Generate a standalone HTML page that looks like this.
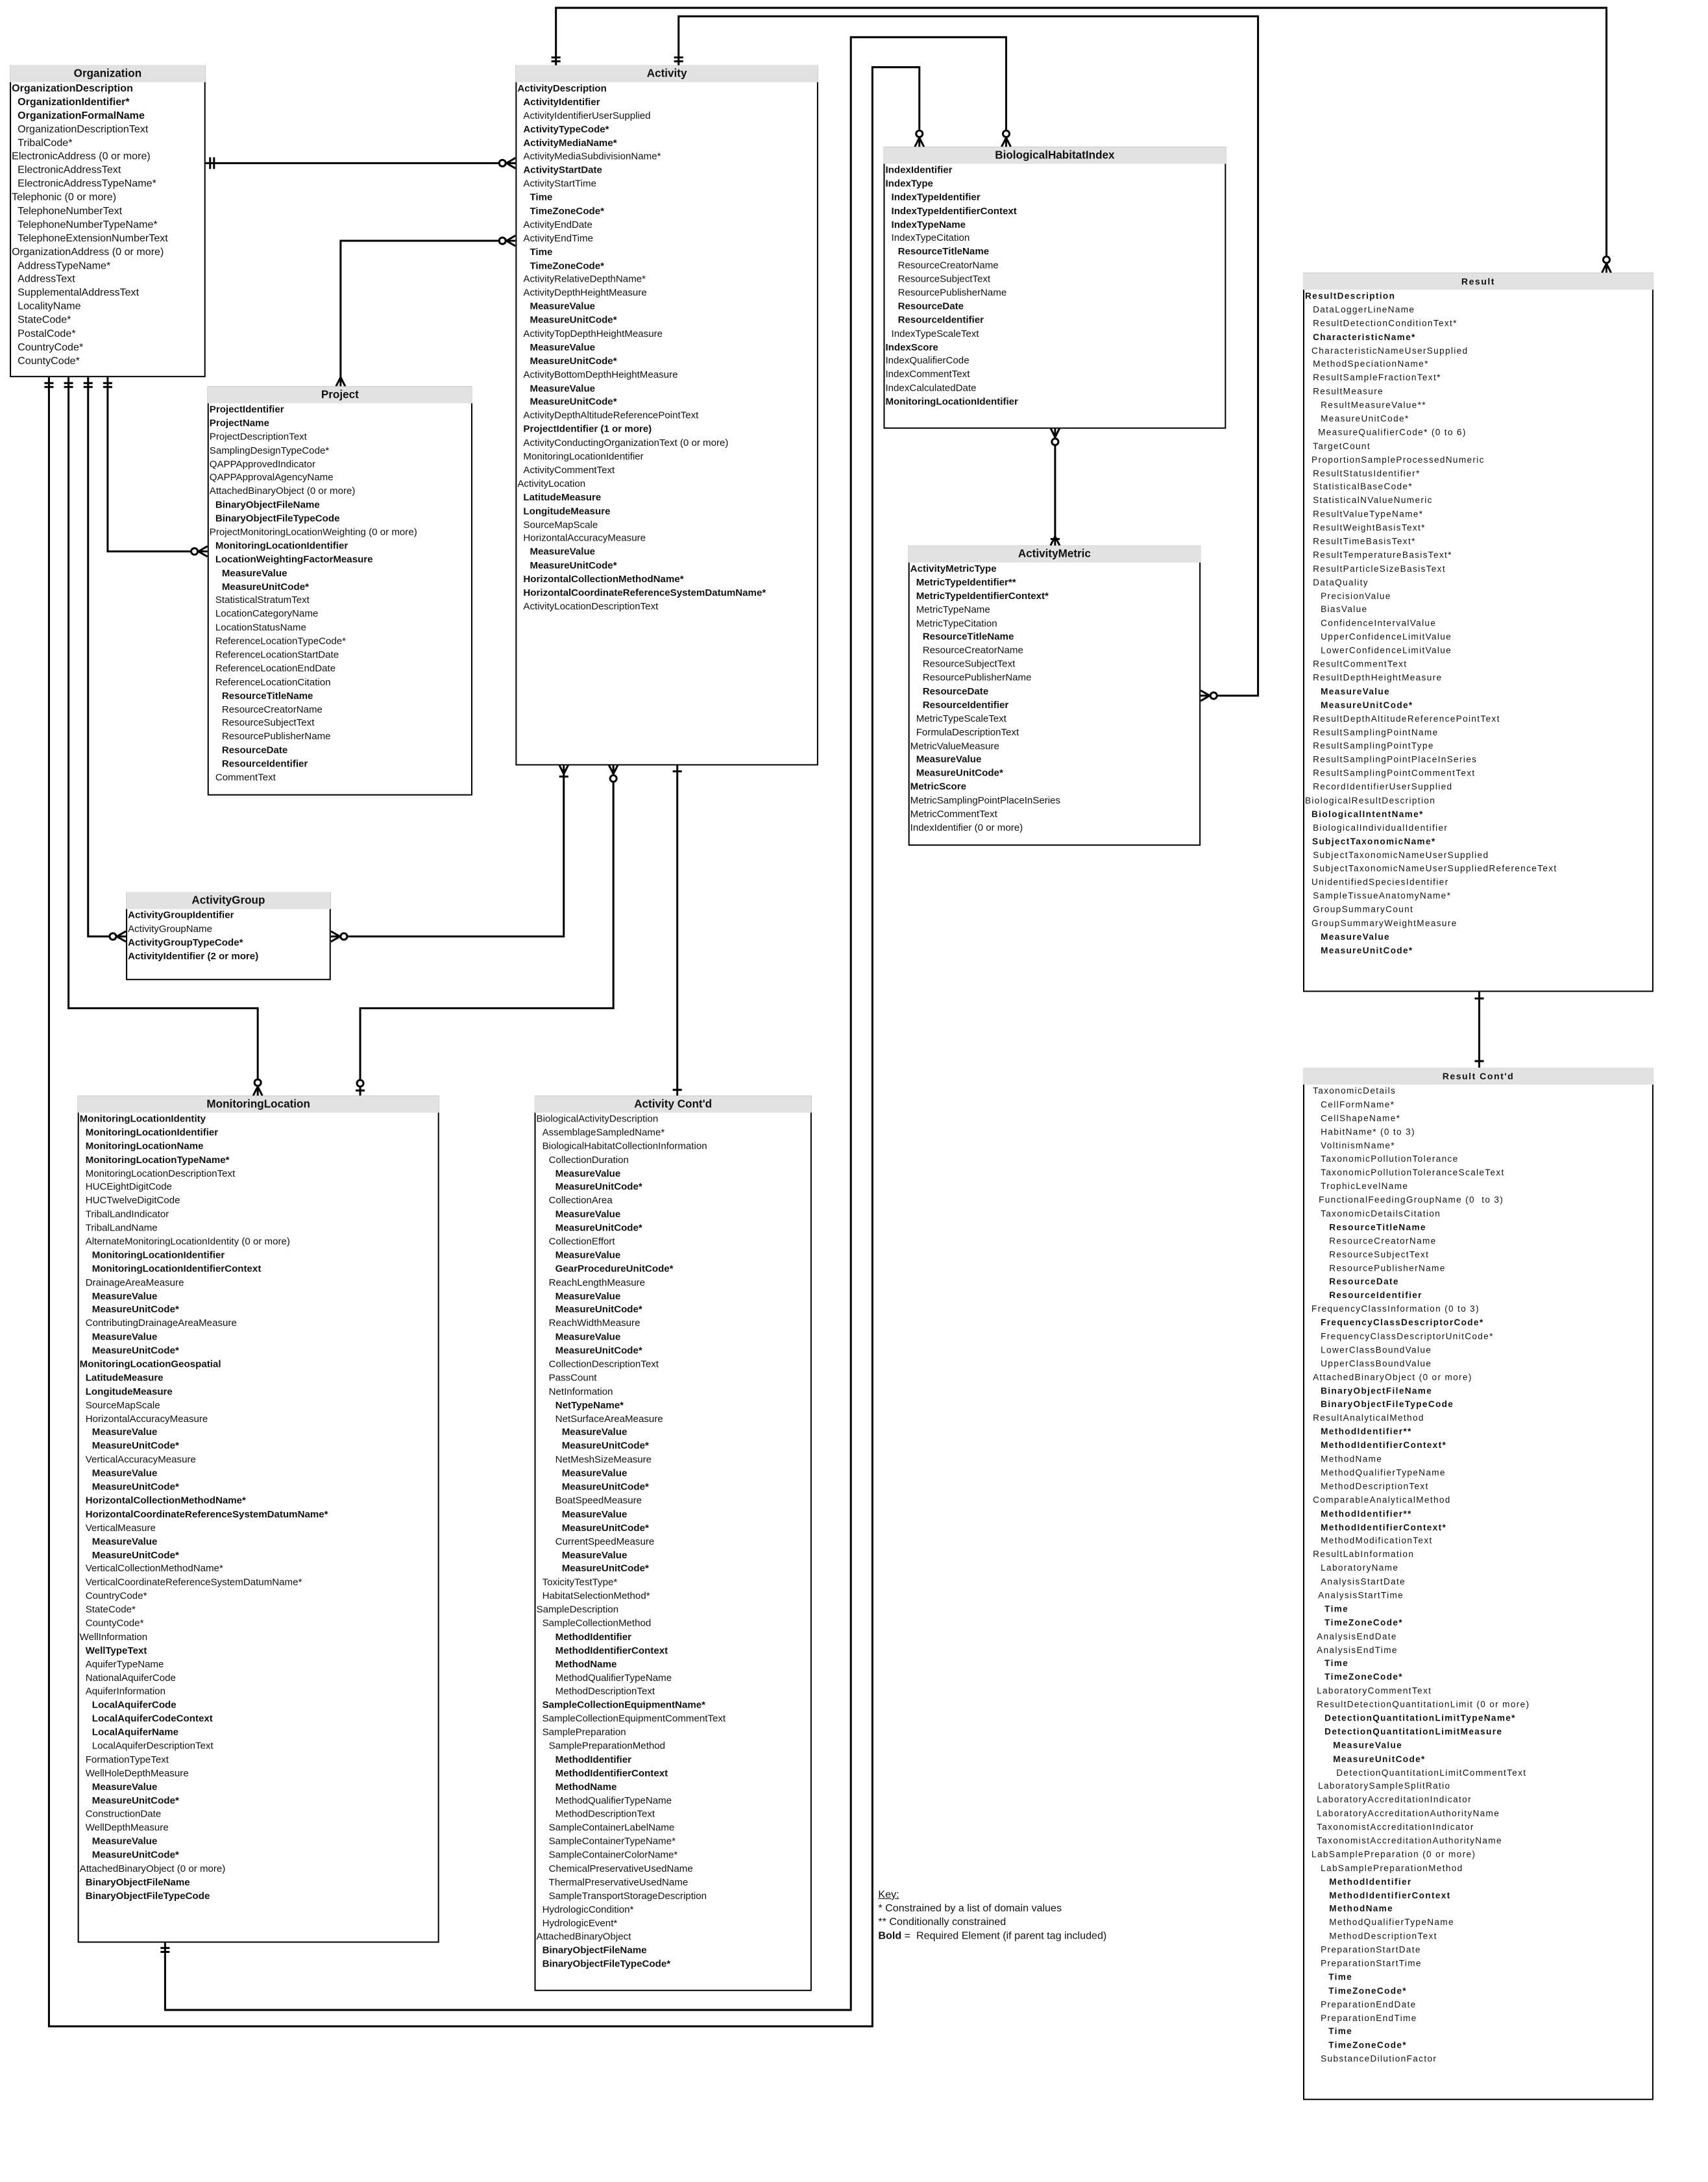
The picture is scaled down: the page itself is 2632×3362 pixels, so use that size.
<!DOCTYPE html>
<html><head><meta charset="utf-8">
<style>
html,body{margin:0;padding:0;background:#fff;}
body{width:2632px;height:3344px;position:relative;overflow:hidden;font-family:"Liberation Sans",sans-serif;color:#111;}
#wrap{position:absolute;left:0;top:0;width:2632px;height:3344px;transform:scale(1.0055);transform-origin:0 0;}
.box{position:absolute;box-sizing:border-box;border:2px solid #000;background:#fff;}
.hd{height:26px;background:#e2e2e2;text-align:center;font-weight:bold;font-size:17px;line-height:26px;margin:-2px -2px 0 -2px;}
.r{height:20.9px;line-height:20.9px;font-size:15px;white-space:nowrap;}
.b{font-weight:bold;}
.l0{padding-left:1px}.l1{padding-left:10px}.l2{padding-left:20px}.l3{padding-left:30px}.l4{padding-left:40px}
.org .r{font-size:16px}
.res .r{font-size:13.5px;letter-spacing:1.35px;}
.res .hd{font-size:14px;letter-spacing:1.5px;}
svg{position:absolute;left:0;top:0;}
.key{position:absolute;left:1346px;top:2893px;font-size:16px;line-height:21px;}
</style></head><body><div id="wrap">
<svg width="2632" height="3344" viewBox="0 0 2632 3344" fill="none" stroke="#000" stroke-width="3">
<path d="M314 250 H790"/>
<path d="M322 241 v18 M328 241 v18"/>
<path d="M776 250 L790 242 M776 250 L790 250 M776 250 L790 258"/><circle cx="770" cy="250" r="5" fill="#fff"/>
<path d="M522 592 V369 H790"/>
<path d="M776 369 L790 361 M776 369 L790 377"/><circle cx="770" cy="369" r="5" fill="#fff"/>
<path d="M522 578 L515 592 M522 578 L529 592"/>
<path d="M165 577 V845 H318"/>
<path d="M135 577 V1435 H193"/>
<path d="M105 577 V1545 H395 V1679"/>
<path d="M75 577 V3105 H1337 V103 H1409 V225"/>
<path d="M68 587 h14 M68 593 h14 M98 587 h14 M98 593 h14 M128 587 h14 M128 593 h14 M158 587 h14 M158 593 h14"/>
<path d="M304 845 L318 837 M304 845 L318 853"/><circle cx="298" cy="845" r="5" fill="#fff"/>
<path d="M179 1435 L193 1427 M179 1435 L193 1443"/><circle cx="173" cy="1435" r="5" fill="#fff"/>
<path d="M395 1665 L388 1679 M395 1665 L402 1679"/><circle cx="395" cy="1659" r="5" fill="#fff"/>
<path d="M1409 211 L1402 225 M1409 211 L1416 225"/><circle cx="1409" cy="205" r="5" fill="#fff"/>
<path d="M253 2976 V3080 H1304 V57 H1542 V225"/>
<path d="M246 2985 h14 M246 2991 h14"/>
<path d="M1542 211 L1535 225 M1542 211 L1549 225"/><circle cx="1542" cy="205" r="5" fill="#fff"/>
<path d="M852 100 V12 H2462 V418"/>
<path d="M845 88 h14 M845 94 h14"/>
<path d="M2462 404 L2455 418 M2462 404 L2469 418"/><circle cx="2462" cy="398" r="5" fill="#fff"/>
<path d="M1040 100 V25 H1928 V1066 H1840"/>
<path d="M1033 88 h14 M1033 94 h14"/>
<path d="M1854 1066 L1840 1058 M1854 1066 L1840 1074"/><circle cx="1860" cy="1066" r="5" fill="#fff"/>
<path d="M864 1172 V1435 H507"/>
<path d="M864 1186 L857 1172 M864 1186 L871 1172 M857 1190 h14"/>
<path d="M521 1435 L507 1427 M521 1435 L507 1443"/><circle cx="527" cy="1435" r="5" fill="#fff"/>
<path d="M940 1172 V1545 H552 V1679"/>
<path d="M940 1186 L933 1172 M940 1186 L947 1172"/><circle cx="940" cy="1193" r="5" fill="#fff"/>
<path d="M545 1671 h14"/><circle cx="552" cy="1660" r="5" fill="#fff"/>
<path d="M1038 1172 V1679"/>
<path d="M1031 1182 h14 M1031 1670 h14"/>
<path d="M1617 656 V836"/>
<path d="M1617 670 L1610 656 M1617 670 L1624 656"/><circle cx="1617" cy="677" r="5" fill="#fff"/>
<path d="M1617 822 L1610 836 M1617 822 L1624 836 M1610 826 h14"/>
<path d="M2267 1520 V1636"/>
<path d="M2260 1530 h14 M2260 1626 h14"/>
</svg>

<div class="box org" style="left:15px;top:100px;width:300px;height:478px;">
<div class="hd">Organization</div>
<div class="r b l0">OrganizationDescription</div>
<div class="r b l1">OrganizationIdentifier*</div>
<div class="r b l1">OrganizationFormalName</div>
<div class="r l1">OrganizationDescriptionText</div>
<div class="r l1">TribalCode*</div>
<div class="r l0">ElectronicAddress (0 or more)</div>
<div class="r l1">ElectronicAddressText</div>
<div class="r l1">ElectronicAddressTypeName*</div>
<div class="r l0">Telephonic (0 or more)</div>
<div class="r l1">TelephoneNumberText</div>
<div class="r l1">TelephoneNumberTypeName*</div>
<div class="r l1">TelephoneExtensionNumberText</div>
<div class="r l0">OrganizationAddress (0 or more)</div>
<div class="r l1">AddressTypeName*</div>
<div class="r l1">AddressText</div>
<div class="r l1">SupplementalAddressText</div>
<div class="r l1">LocalityName</div>
<div class="r l1">StateCode*</div>
<div class="r l1">PostalCode*</div>
<div class="r l1">CountryCode*</div>
<div class="r l1">CountyCode*</div>
</div>

<div class="box" style="left:790px;top:100px;width:464px;height:1073px;">
<div class="hd">Activity</div>
<div class="r b l0">ActivityDescription</div>
<div class="r b l1">ActivityIdentifier</div>
<div class="r l1">ActivityIdentifierUserSupplied</div>
<div class="r b l1">ActivityTypeCode*</div>
<div class="r b l1">ActivityMediaName*</div>
<div class="r l1">ActivityMediaSubdivisionName*</div>
<div class="r b l1">ActivityStartDate</div>
<div class="r l1">ActivityStartTime</div>
<div class="r b l2">Time</div>
<div class="r b l2">TimeZoneCode*</div>
<div class="r l1">ActivityEndDate</div>
<div class="r l1">ActivityEndTime</div>
<div class="r b l2">Time</div>
<div class="r b l2">TimeZoneCode*</div>
<div class="r l1">ActivityRelativeDepthName*</div>
<div class="r l1">ActivityDepthHeightMeasure</div>
<div class="r b l2">MeasureValue</div>
<div class="r b l2">MeasureUnitCode*</div>
<div class="r l1">ActivityTopDepthHeightMeasure</div>
<div class="r b l2">MeasureValue</div>
<div class="r b l2">MeasureUnitCode*</div>
<div class="r l1">ActivityBottomDepthHeightMeasure</div>
<div class="r b l2">MeasureValue</div>
<div class="r b l2">MeasureUnitCode*</div>
<div class="r l1">ActivityDepthAltitudeReferencePointText</div>
<div class="r b l1">ProjectIdentifier (1 or more)</div>
<div class="r l1">ActivityConductingOrganizationText (0 or more)</div>
<div class="r l1">MonitoringLocationIdentifier</div>
<div class="r l1">ActivityCommentText</div>
<div class="r l0">ActivityLocation</div>
<div class="r b l1">LatitudeMeasure</div>
<div class="r b l1">LongitudeMeasure</div>
<div class="r l1">SourceMapScale</div>
<div class="r l1">HorizontalAccuracyMeasure</div>
<div class="r b l2">MeasureValue</div>
<div class="r b l2">MeasureUnitCode*</div>
<div class="r b l1">HorizontalCollectionMethodName*</div>
<div class="r b l1">HorizontalCoordinateReferenceSystemDatumName*</div>
<div class="r l1">ActivityLocationDescriptionText</div>
</div>

<div class="box" style="left:318px;top:592px;width:406px;height:627px;">
<div class="hd">Project</div>
<div class="r b l0">ProjectIdentifier</div>
<div class="r b l0">ProjectName</div>
<div class="r l0">ProjectDescriptionText</div>
<div class="r l0">SamplingDesignTypeCode*</div>
<div class="r l0">QAPPApprovedIndicator</div>
<div class="r l0">QAPPApprovalAgencyName</div>
<div class="r l0">AttachedBinaryObject (0 or more)</div>
<div class="r b l1">BinaryObjectFileName</div>
<div class="r b l1">BinaryObjectFileTypeCode</div>
<div class="r l0">ProjectMonitoringLocationWeighting (0 or more)</div>
<div class="r b l1">MonitoringLocationIdentifier</div>
<div class="r b l1">LocationWeightingFactorMeasure</div>
<div class="r b l2">MeasureValue</div>
<div class="r b l2">MeasureUnitCode*</div>
<div class="r l1">StatisticalStratumText</div>
<div class="r l1">LocationCategoryName</div>
<div class="r l1">LocationStatusName</div>
<div class="r l1">ReferenceLocationTypeCode*</div>
<div class="r l1">ReferenceLocationStartDate</div>
<div class="r l1">ReferenceLocationEndDate</div>
<div class="r l1">ReferenceLocationCitation</div>
<div class="r b l2">ResourceTitleName</div>
<div class="r l2">ResourceCreatorName</div>
<div class="r l2">ResourceSubjectText</div>
<div class="r l2">ResourcePublisherName</div>
<div class="r b l2">ResourceDate</div>
<div class="r b l2">ResourceIdentifier</div>
<div class="r l1">CommentText</div>
</div>

<div class="box" style="left:193px;top:1367px;width:314px;height:135px;">
<div class="hd">ActivityGroup</div>
<div class="r b l0">ActivityGroupIdentifier</div>
<div class="r l0">ActivityGroupName</div>
<div class="r b l0">ActivityGroupTypeCode*</div>
<div class="r b l0">ActivityIdentifier (2 or more)</div>
</div>

<div class="box" style="left:1354px;top:225px;width:525px;height:432px;">
<div class="hd">BiologicalHabitatIndex</div>
<div class="r b l0">IndexIdentifier</div>
<div class="r b l0">IndexType</div>
<div class="r b l1">IndexTypeIdentifier</div>
<div class="r b l1">IndexTypeIdentifierContext</div>
<div class="r b l1">IndexTypeName</div>
<div class="r l1">IndexTypeCitation</div>
<div class="r b l2">ResourceTitleName</div>
<div class="r l2">ResourceCreatorName</div>
<div class="r l2">ResourceSubjectText</div>
<div class="r l2">ResourcePublisherName</div>
<div class="r b l2">ResourceDate</div>
<div class="r b l2">ResourceIdentifier</div>
<div class="r l1">IndexTypeScaleText</div>
<div class="r b l0">IndexScore</div>
<div class="r l0">IndexQualifierCode</div>
<div class="r l0">IndexCommentText</div>
<div class="r l0">IndexCalculatedDate</div>
<div class="r b l0">MonitoringLocationIdentifier</div>
</div>

<div class="box" style="left:1392px;top:836px;width:448px;height:460px;">
<div class="hd">ActivityMetric</div>
<div class="r b l0">ActivityMetricType</div>
<div class="r b l1">MetricTypeIdentifier**</div>
<div class="r b l1">MetricTypeIdentifierContext*</div>
<div class="r l1">MetricTypeName</div>
<div class="r l1">MetricTypeCitation</div>
<div class="r b l2">ResourceTitleName</div>
<div class="r l2">ResourceCreatorName</div>
<div class="r l2">ResourceSubjectText</div>
<div class="r l2">ResourcePublisherName</div>
<div class="r b l2">ResourceDate</div>
<div class="r b l2">ResourceIdentifier</div>
<div class="r l1">MetricTypeScaleText</div>
<div class="r l1">FormulaDescriptionText</div>
<div class="r l0">MetricValueMeasure</div>
<div class="r b l1">MeasureValue</div>
<div class="r b l1">MeasureUnitCode*</div>
<div class="r b l0">MetricScore</div>
<div class="r l0">MetricSamplingPointPlaceInSeries</div>
<div class="r l0">MetricCommentText</div>
<div class="r l0">IndexIdentifier (0 or more)</div>
</div>

<div class="box res" style="left:1997px;top:418px;width:537px;height:1102px;">
<div class="hd">Result</div>
<div class="r b" style="padding-left:1px">ResultDescription</div>
<div class="r" style="padding-left:13px">DataLoggerLineName</div>
<div class="r" style="padding-left:13px">ResultDetectionConditionText*</div>
<div class="r b" style="padding-left:13px">CharacteristicName*</div>
<div class="r" style="padding-left:11px">CharacteristicNameUserSupplied</div>
<div class="r" style="padding-left:13px">MethodSpeciationName*</div>
<div class="r" style="padding-left:13px">ResultSampleFractionText*</div>
<div class="r" style="padding-left:13px">ResultMeasure</div>
<div class="r" style="padding-left:25px">ResultMeasureValue**</div>
<div class="r" style="padding-left:25px">MeasureUnitCode*</div>
<div class="r" style="padding-left:21px">MeasureQualifierCode* (0 to 6)</div>
<div class="r" style="padding-left:13px">TargetCount</div>
<div class="r" style="padding-left:11px">ProportionSampleProcessedNumeric</div>
<div class="r" style="padding-left:13px">ResultStatusIdentifier*</div>
<div class="r" style="padding-left:13px">StatisticalBaseCode*</div>
<div class="r" style="padding-left:13px">StatisticalNValueNumeric</div>
<div class="r" style="padding-left:13px">ResultValueTypeName*</div>
<div class="r" style="padding-left:13px">ResultWeightBasisText*</div>
<div class="r" style="padding-left:13px">ResultTimeBasisText*</div>
<div class="r" style="padding-left:13px">ResultTemperatureBasisText*</div>
<div class="r" style="padding-left:13px">ResultParticleSizeBasisText</div>
<div class="r" style="padding-left:13px">DataQuality</div>
<div class="r" style="padding-left:25px">PrecisionValue</div>
<div class="r" style="padding-left:25px">BiasValue</div>
<div class="r" style="padding-left:25px">ConfidenceIntervalValue</div>
<div class="r" style="padding-left:25px">UpperConfidenceLimitValue</div>
<div class="r" style="padding-left:25px">LowerConfidenceLimitValue</div>
<div class="r" style="padding-left:13px">ResultCommentText</div>
<div class="r" style="padding-left:13px">ResultDepthHeightMeasure</div>
<div class="r b" style="padding-left:25px">MeasureValue</div>
<div class="r b" style="padding-left:25px">MeasureUnitCode*</div>
<div class="r" style="padding-left:13px">ResultDepthAltitudeReferencePointText</div>
<div class="r" style="padding-left:13px">ResultSamplingPointName</div>
<div class="r" style="padding-left:13px">ResultSamplingPointType</div>
<div class="r" style="padding-left:13px">ResultSamplingPointPlaceInSeries</div>
<div class="r" style="padding-left:13px">ResultSamplingPointCommentText</div>
<div class="r" style="padding-left:13px">RecordIdentifierUserSupplied</div>
<div class="r" style="padding-left:1px">BiologicalResultDescription</div>
<div class="r b" style="padding-left:11px">BiologicalIntentName*</div>
<div class="r" style="padding-left:13px">BiologicalIndividualIdentifier</div>
<div class="r b" style="padding-left:12px">SubjectTaxonomicName*</div>
<div class="r" style="padding-left:13px">SubjectTaxonomicNameUserSupplied</div>
<div class="r" style="padding-left:13px">SubjectTaxonomicNameUserSuppliedReferenceText</div>
<div class="r" style="padding-left:11px">UnidentifiedSpeciesIdentifier</div>
<div class="r" style="padding-left:13px">SampleTissueAnatomyName*</div>
<div class="r" style="padding-left:13px">GroupSummaryCount</div>
<div class="r" style="padding-left:11px">GroupSummaryWeightMeasure</div>
<div class="r b" style="padding-left:25px">MeasureValue</div>
<div class="r b" style="padding-left:25px">MeasureUnitCode*</div>
</div>

<div class="box res" style="left:1997px;top:1636px;width:537px;height:1582px;">
<div class="hd">Result Cont'd</div>
<div class="r" style="padding-left:13px">TaxonomicDetails</div>
<div class="r" style="padding-left:25px">CellFormName*</div>
<div class="r" style="padding-left:25px">CellShapeName*</div>
<div class="r" style="padding-left:25px">HabitName* (0 to 3)</div>
<div class="r" style="padding-left:25px">VoltinismName*</div>
<div class="r" style="padding-left:25px">TaxonomicPollutionTolerance</div>
<div class="r" style="padding-left:25px">TaxonomicPollutionToleranceScaleText</div>
<div class="r" style="padding-left:25px">TrophicLevelName</div>
<div class="r" style="padding-left:22px">FunctionalFeedingGroupName (0&nbsp; to 3)</div>
<div class="r" style="padding-left:25px">TaxonomicDetailsCitation</div>
<div class="r b" style="padding-left:38px">ResourceTitleName</div>
<div class="r" style="padding-left:38px">ResourceCreatorName</div>
<div class="r" style="padding-left:38px">ResourceSubjectText</div>
<div class="r" style="padding-left:38px">ResourcePublisherName</div>
<div class="r b" style="padding-left:38px">ResourceDate</div>
<div class="r b" style="padding-left:38px">ResourceIdentifier</div>
<div class="r" style="padding-left:11px">FrequencyClassInformation (0 to 3)</div>
<div class="r b" style="padding-left:25px">FrequencyClassDescriptorCode*</div>
<div class="r" style="padding-left:25px">FrequencyClassDescriptorUnitCode*</div>
<div class="r" style="padding-left:25px">LowerClassBoundValue</div>
<div class="r" style="padding-left:25px">UpperClassBoundValue</div>
<div class="r" style="padding-left:13px">AttachedBinaryObject (0 or more)</div>
<div class="r b" style="padding-left:25px">BinaryObjectFileName</div>
<div class="r b" style="padding-left:25px">BinaryObjectFileTypeCode</div>
<div class="r" style="padding-left:13px">ResultAnalyticalMethod</div>
<div class="r b" style="padding-left:25px">MethodIdentifier**</div>
<div class="r b" style="padding-left:25px">MethodIdentifierContext*</div>
<div class="r" style="padding-left:25px">MethodName</div>
<div class="r" style="padding-left:25px">MethodQualifierTypeName</div>
<div class="r" style="padding-left:25px">MethodDescriptionText</div>
<div class="r" style="padding-left:13px">ComparableAnalyticalMethod</div>
<div class="r b" style="padding-left:25px">MethodIdentifier**</div>
<div class="r b" style="padding-left:25px">MethodIdentifierContext*</div>
<div class="r" style="padding-left:25px">MethodModificationText</div>
<div class="r" style="padding-left:13px">ResultLabInformation</div>
<div class="r" style="padding-left:25px">LaboratoryName</div>
<div class="r" style="padding-left:25px">AnalysisStartDate</div>
<div class="r" style="padding-left:21px">AnalysisStartTime</div>
<div class="r b" style="padding-left:31px">Time</div>
<div class="r b" style="padding-left:31px">TimeZoneCode*</div>
<div class="r" style="padding-left:19px">AnalysisEndDate</div>
<div class="r" style="padding-left:19px">AnalysisEndTime</div>
<div class="r b" style="padding-left:31px">Time</div>
<div class="r b" style="padding-left:31px">TimeZoneCode*</div>
<div class="r" style="padding-left:19px">LaboratoryCommentText</div>
<div class="r" style="padding-left:19px">ResultDetectionQuantitationLimit (0 or more)</div>
<div class="r b" style="padding-left:31px">DetectionQuantitationLimitTypeName*</div>
<div class="r b" style="padding-left:31px">DetectionQuantitationLimitMeasure</div>
<div class="r b" style="padding-left:44px">MeasureValue</div>
<div class="r b" style="padding-left:44px">MeasureUnitCode*</div>
<div class="r" style="padding-left:49px">DetectionQuantitationLimitCommentText</div>
<div class="r" style="padding-left:21px">LaboratorySampleSplitRatio</div>
<div class="r" style="padding-left:19px">LaboratoryAccreditationIndicator</div>
<div class="r" style="padding-left:19px">LaboratoryAccreditationAuthorityName</div>
<div class="r" style="padding-left:19px">TaxonomistAccreditationIndicator</div>
<div class="r" style="padding-left:19px">TaxonomistAccreditationAuthorityName</div>
<div class="r" style="padding-left:11px">LabSamplePreparation (0 or more)</div>
<div class="r" style="padding-left:25px">LabSamplePreparationMethod</div>
<div class="r b" style="padding-left:38px">MethodIdentifier</div>
<div class="r b" style="padding-left:38px">MethodIdentifierContext</div>
<div class="r b" style="padding-left:38px">MethodName</div>
<div class="r" style="padding-left:38px">MethodQualifierTypeName</div>
<div class="r" style="padding-left:38px">MethodDescriptionText</div>
<div class="r" style="padding-left:25px">PreparationStartDate</div>
<div class="r" style="padding-left:25px">PreparationStartTime</div>
<div class="r b" style="padding-left:37px">Time</div>
<div class="r b" style="padding-left:37px">TimeZoneCode*</div>
<div class="r" style="padding-left:25px">PreparationEndDate</div>
<div class="r" style="padding-left:25px">PreparationEndTime</div>
<div class="r b" style="padding-left:37px">Time</div>
<div class="r b" style="padding-left:37px">TimeZoneCode*</div>
<div class="r" style="padding-left:25px">SubstanceDilutionFactor</div>
</div>

<div class="box" style="left:119px;top:1679px;width:554px;height:1298px;">
<div class="hd">MonitoringLocation</div>
<div class="r b l0">MonitoringLocationIdentity</div>
<div class="r b l1">MonitoringLocationIdentifier</div>
<div class="r b l1">MonitoringLocationName</div>
<div class="r b l1">MonitoringLocationTypeName*</div>
<div class="r l1">MonitoringLocationDescriptionText</div>
<div class="r l1">HUCEightDigitCode</div>
<div class="r l1">HUCTwelveDigitCode</div>
<div class="r l1">TribalLandIndicator</div>
<div class="r l1">TribalLandName</div>
<div class="r l1">AlternateMonitoringLocationIdentity (0 or more)</div>
<div class="r b l2">MonitoringLocationIdentifier</div>
<div class="r b l2">MonitoringLocationIdentifierContext</div>
<div class="r l1">DrainageAreaMeasure</div>
<div class="r b l2">MeasureValue</div>
<div class="r b l2">MeasureUnitCode*</div>
<div class="r l1">ContributingDrainageAreaMeasure</div>
<div class="r b l2">MeasureValue</div>
<div class="r b l2">MeasureUnitCode*</div>
<div class="r b l0">MonitoringLocationGeospatial</div>
<div class="r b l1">LatitudeMeasure</div>
<div class="r b l1">LongitudeMeasure</div>
<div class="r l1">SourceMapScale</div>
<div class="r l1">HorizontalAccuracyMeasure</div>
<div class="r b l2">MeasureValue</div>
<div class="r b l2">MeasureUnitCode*</div>
<div class="r l1">VerticalAccuracyMeasure</div>
<div class="r b l2">MeasureValue</div>
<div class="r b l2">MeasureUnitCode*</div>
<div class="r b l1">HorizontalCollectionMethodName*</div>
<div class="r b l1">HorizontalCoordinateReferenceSystemDatumName*</div>
<div class="r l1">VerticalMeasure</div>
<div class="r b l2">MeasureValue</div>
<div class="r b l2">MeasureUnitCode*</div>
<div class="r l1">VerticalCollectionMethodName*</div>
<div class="r l1">VerticalCoordinateReferenceSystemDatumName*</div>
<div class="r l1">CountryCode*</div>
<div class="r l1">StateCode*</div>
<div class="r l1">CountyCode*</div>
<div class="r l0">WellInformation</div>
<div class="r b l1">WellTypeText</div>
<div class="r l1">AquiferTypeName</div>
<div class="r l1">NationalAquiferCode</div>
<div class="r l1">AquiferInformation</div>
<div class="r b l2">LocalAquiferCode</div>
<div class="r b l2">LocalAquiferCodeContext</div>
<div class="r b l2">LocalAquiferName</div>
<div class="r l2">LocalAquiferDescriptionText</div>
<div class="r l1">FormationTypeText</div>
<div class="r l1">WellHoleDepthMeasure</div>
<div class="r b l2">MeasureValue</div>
<div class="r b l2">MeasureUnitCode*</div>
<div class="r l1">ConstructionDate</div>
<div class="r l1">WellDepthMeasure</div>
<div class="r b l2">MeasureValue</div>
<div class="r b l2">MeasureUnitCode*</div>
<div class="r l0">AttachedBinaryObject (0 or more)</div>
<div class="r b l1">BinaryObjectFileName</div>
<div class="r b l1">BinaryObjectFileTypeCode</div>
</div>

<div class="box" style="left:819px;top:1679px;width:425px;height:1372px;">
<div class="hd">Activity Cont'd</div>
<div class="r l0">BiologicalActivityDescription</div>
<div class="r l1">AssemblageSampledName*</div>
<div class="r l1">BiologicalHabitatCollectionInformation</div>
<div class="r l2">CollectionDuration</div>
<div class="r b l3">MeasureValue</div>
<div class="r b l3">MeasureUnitCode*</div>
<div class="r l2">CollectionArea</div>
<div class="r b l3">MeasureValue</div>
<div class="r b l3">MeasureUnitCode*</div>
<div class="r l2">CollectionEffort</div>
<div class="r b l3">MeasureValue</div>
<div class="r b l3">GearProcedureUnitCode*</div>
<div class="r l2">ReachLengthMeasure</div>
<div class="r b l3">MeasureValue</div>
<div class="r b l3">MeasureUnitCode*</div>
<div class="r l2">ReachWidthMeasure</div>
<div class="r b l3">MeasureValue</div>
<div class="r b l3">MeasureUnitCode*</div>
<div class="r l2">CollectionDescriptionText</div>
<div class="r l2">PassCount</div>
<div class="r l2">NetInformation</div>
<div class="r b l3">NetTypeName*</div>
<div class="r l3">NetSurfaceAreaMeasure</div>
<div class="r b l4">MeasureValue</div>
<div class="r b l4">MeasureUnitCode*</div>
<div class="r l3">NetMeshSizeMeasure</div>
<div class="r b l4">MeasureValue</div>
<div class="r b l4">MeasureUnitCode*</div>
<div class="r l3">BoatSpeedMeasure</div>
<div class="r b l4">MeasureValue</div>
<div class="r b l4">MeasureUnitCode*</div>
<div class="r l3">CurrentSpeedMeasure</div>
<div class="r b l4">MeasureValue</div>
<div class="r b l4">MeasureUnitCode*</div>
<div class="r l1">ToxicityTestType*</div>
<div class="r l1">HabitatSelectionMethod*</div>
<div class="r l0">SampleDescription</div>
<div class="r l1">SampleCollectionMethod</div>
<div class="r b l3">MethodIdentifier</div>
<div class="r b l3">MethodIdentifierContext</div>
<div class="r b l3">MethodName</div>
<div class="r l3">MethodQualifierTypeName</div>
<div class="r l3">MethodDescriptionText</div>
<div class="r b l1">SampleCollectionEquipmentName*</div>
<div class="r l1">SampleCollectionEquipmentCommentText</div>
<div class="r l1">SamplePreparation</div>
<div class="r l2">SamplePreparationMethod</div>
<div class="r b l3">MethodIdentifier</div>
<div class="r b l3">MethodIdentifierContext</div>
<div class="r b l3">MethodName</div>
<div class="r l3">MethodQualifierTypeName</div>
<div class="r l3">MethodDescriptionText</div>
<div class="r l2">SampleContainerLabelName</div>
<div class="r l2">SampleContainerTypeName*</div>
<div class="r l2">SampleContainerColorName*</div>
<div class="r l2">ChemicalPreservativeUsedName</div>
<div class="r l2">ThermalPreservativeUsedName</div>
<div class="r l2">SampleTransportStorageDescription</div>
<div class="r l1">HydrologicCondition*</div>
<div class="r l1">HydrologicEvent*</div>
<div class="r l0">AttachedBinaryObject</div>
<div class="r b l1">BinaryObjectFileName</div>
<div class="r b l1">BinaryObjectFileTypeCode*</div>
</div>

<div class="key">
<div style="text-decoration:underline">Key:</div>
<div>* Constrained by a list of domain values</div>
<div>** Conditionally constrained</div>
<div><b>Bold</b> =&nbsp; Required Element (if parent tag included)</div>
</div>
</div></body></html>
